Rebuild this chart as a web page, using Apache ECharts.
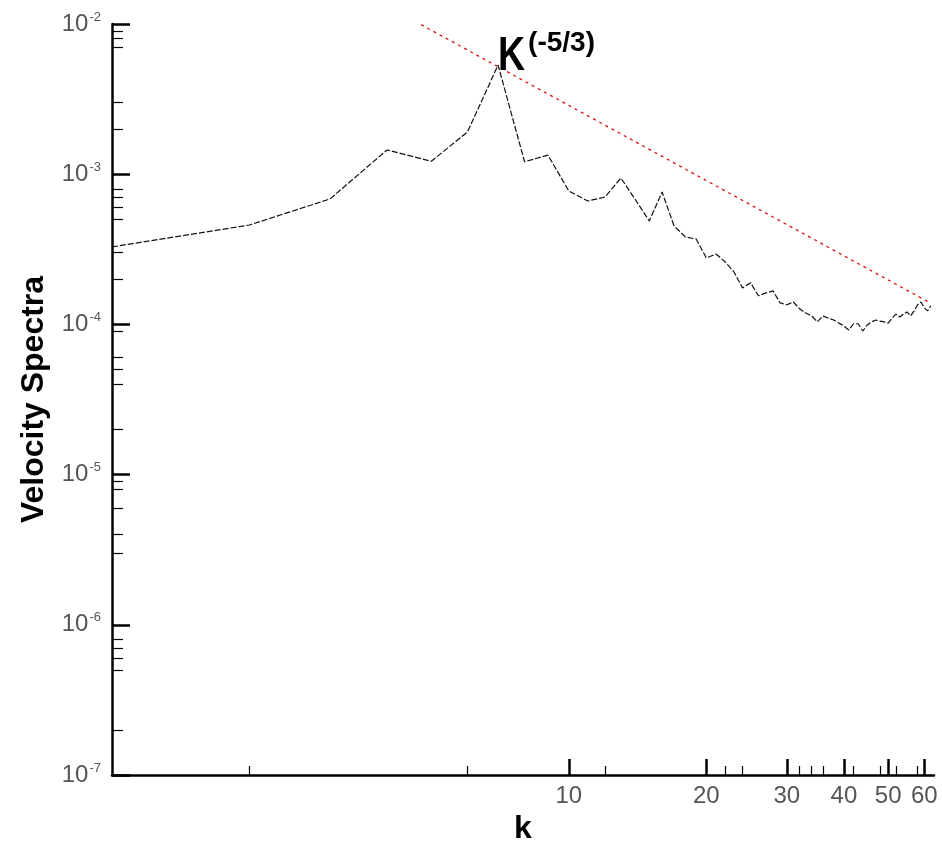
<!DOCTYPE html>
<html>
<head>
<meta charset="utf-8">
<title>Velocity Spectra</title>
<script src="https://cdn.jsdelivr.net/npm/echarts@6.0.0/dist/echarts.min.js"></script>
<style>
  html, body { margin: 0; padding: 0; background: #fff; }
  #chart { width: 942px; height: 842px; }
</style>
</head>
<body>
<div id="chart"></div>
<script>
// wavenumbers k
const waveNumbers = [
  1, 2, 3, 4, 5, 6, 7, 8, 9, 10,
  11, 12, 13, 14, 15, 16, 17, 18, 19, 20,
  21, 22, 23, 24, 25, 26, 27, 28, 29, 30,
  31, 32, 33, 34, 35, 36, 37, 38, 39, 40,
  41, 42, 43, 44, 45, 46, 47, 48, 49, 50,
  51, 52, 53, 54, 55, 56, 57, 58, 59, 60,
  61, 62
];
// velocity spectrum E(k)
const spectrum = [
  3.28e-4, 4.59e-4, 6.84e-4, 1.45e-3, 1.22e-3, 1.91e-3, 5.33e-3, 1.21e-3, 1.34e-3, 7.73e-4,
  6.63e-4, 7.05e-4, 9.43e-4, 6.73e-4, 4.88e-4, 7.61e-4, 4.52e-4, 3.82e-4, 3.70e-4, 2.77e-4,
  2.94e-4, 2.60e-4, 2.23e-4, 1.75e-4, 1.89e-4, 1.55e-4, 1.62e-4, 1.67e-4, 1.39e-4, 1.35e-4,
  1.41e-4, 1.27e-4, 1.19e-4, 1.14e-4, 1.04e-4, 1.14e-4, 1.10e-4, 1.07e-4, 1.02e-4, 9.76e-5,
  9.18e-5, 1.01e-4, 1.01e-4, 9.04e-5, 9.91e-5, 1.04e-4, 1.07e-4, 1.05e-4, 1.04e-4, 1.02e-4,
  1.10e-4, 1.17e-4, 1.12e-4, 1.17e-4, 1.21e-4, 1.14e-4, 1.23e-4, 1.35e-4, 1.41e-4, 1.29e-4,
  1.23e-4, 1.33e-4
];
// k^(-5/3) reference slope: end points of the straight log-log line
const slopeK = [4.75, 61];
const slopeE = [9.9e-3, 1.42e-4];

// axis ticks and labels
const kLabels = [10, 20, 30, 40, 50, 60];
const kMinorTicks = [2, 6, 12, 22, 24, 32, 34, 36, 42, 48, 52, 58];
const eLabels = [1e-7, 1e-6, 1e-5, 1e-4, 1e-3, 1e-2];
const eMinorTicks = [
  2e-3, 3e-3, 7e-3, 8e-3, 9e-3,
  2e-4, 3e-4, 5e-4, 6e-4, 7e-4, 8e-4,
  2e-5, 4e-5, 5e-5, 6e-5, 9e-5,
  3e-6, 4e-6, 6e-6, 8e-6, 9e-6,
  2e-7, 5e-7, 6e-7, 7e-7, 8e-7
];

const K_MIN = 1, K_MAX = 63, E_MIN = 1e-7, E_MAX = 1e-2;
const FONT = '"Liberation Sans", Arial, sans-serif';

const chart = echarts.init(document.getElementById('chart'), null, { renderer: 'canvas' });

const majorTick = { show: true, inside: true, length: 18, lineStyle: { color: '#000', width: 2.5 } };
const minorTickStyle = { show: true, inside: true, lineStyle: { color: '#000', width: 1.2 } };

const option = {
  backgroundColor: '#fff',
  animation: false,
  grid: { left: 112, top: 24, right: 8, bottom: 67, containLabel: false, outerBoundsMode: 'none' },
  xAxis: [
    {
      type: 'log', logBase: 10, min: K_MIN, max: K_MAX,
      position: 'bottom',
      name: 'k', nameLocation: 'middle', nameGap: 30,
      nameTextStyle: { fontFamily: FONT, fontWeight: 'bold', fontSize: 32, color: '#000' },
      axisLine: { show: true, onZero: false, lineStyle: { color: '#000', width: 2.5 } },
      axisTick: Object.assign({ customValues: kLabels }, majorTick, { length: 16 }),
      axisLabel: {
        customValues: kLabels, margin: 9,
        fontFamily: FONT, fontSize: 24, color: '#555',
        formatter: v => String(Math.round(v))
      },
      splitLine: { show: false }, minorTick: { show: false }
    },
    {
      type: 'log', logBase: 10, min: K_MIN, max: K_MAX,
      position: 'bottom',
      axisLine: { show: false },
      axisTick: Object.assign({ customValues: kMinorTicks, length: 9 }, minorTickStyle),
      axisLabel: { show: false },
      splitLine: { show: false }
    }
  ],
  yAxis: [
    {
      type: 'log', logBase: 10, min: E_MIN, max: E_MAX,
      position: 'left',
      name: 'Velocity Spectra', nameLocation: 'middle', nameGap: 62,
      nameTextStyle: { fontFamily: FONT, fontWeight: 'bold', fontSize: 32, color: '#000' },
      axisLine: { show: true, onZero: false, lineStyle: { color: '#000', width: 2.5 } },
      axisTick: Object.assign({ customValues: eLabels }, majorTick),
      axisLabel: {
        customValues: eLabels, margin: 11,
        formatter: v => '{b|10}{s|' + Math.round(Math.log10(v)) + '}',
        rich: {
          b: { fontFamily: FONT, fontSize: 24, color: '#555' },
          s: { fontFamily: FONT, fontSize: 13, color: '#555', padding: [0, 0, 14, 1] }
        }
      },
      splitLine: { show: false }, minorTick: { show: false }
    },
    {
      type: 'log', logBase: 10, min: E_MIN, max: E_MAX,
      position: 'left',
      axisLine: { show: false },
      axisTick: Object.assign({ customValues: eMinorTicks, length: 11 }, minorTickStyle),
      axisLabel: { show: false },
      splitLine: { show: false }
    }
  ],
  series: [
    {
      name: 'E(k)', type: 'line',
      xAxisIndex: 0, yAxisIndex: 0,
      data: waveNumbers.map((k, i) => [k, spectrum[i]]),
      showSymbol: false, smooth: false,
      lineStyle: { color: '#111', width: 1.2, type: [6, 2] },
      z: 3
    },
    {
      name: 'k^(-5/3)', type: 'line',
      xAxisIndex: 0, yAxisIndex: 0,
      data: slopeK.map((k, i) => [k, slopeE[i]]),
      showSymbol: false,
      lineStyle: { color: '#e01010', width: 1.3, type: [3, 4] },
      z: 2
    }
  ]
};

chart.setOption(option);

// "K^(-5/3)" annotation anchored to the spectral peak
const peak = chart.convertToPixel({ xAxisIndex: 0, yAxisIndex: 0 }, [waveNumbers[6], spectrum[6]]);
chart.setOption({
  graphic: [
    {
      type: 'text', x: peak[0], y: peak[1] + 16, scaleX: 0.78,
      style: {
        text: 'K', fontFamily: FONT, fontWeight: 'bold', fontSize: 48,
        fill: '#000', textAlign: 'left', textVerticalAlign: 'bottom'
      },
      z: 10
    },
    {
      type: 'text', x: peak[0] + 30, y: peak[1] - 36,
      style: {
        text: '(-5/3)', fontFamily: FONT, fontWeight: 'bold', fontSize: 28,
        fill: '#000', textAlign: 'left', textVerticalAlign: 'top'
      },
      z: 10
    }
  ]
});
</script>
</body>
</html>
